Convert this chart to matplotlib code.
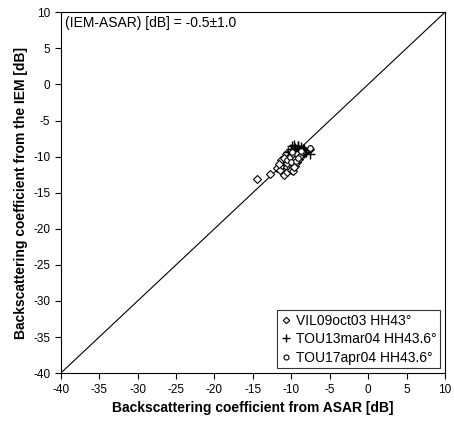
import matplotlib.pyplot as plt

plt.rcParams['font.family'] = ['Liberation Sans', 'DejaVu Sans']
plt.rcParams['axes.unicode_minus'] = False

# VIL09oct03 HH43 (diamonds)
vil_asar = [-14.4, -12.8, -11.8, -11.5, -11.2, -11.0, -10.9, -10.6, -10.5, -10.3,
            -10.2, -10.0, -9.9, -9.8, -9.6, -9.5, -9.4, -9.2, -9.0, -11.3,
            -10.8, -10.4, -10.1, -9.7, -9.3, -11.6, -10.7, -9.9, -9.1, -10.0,
            -11.0, -10.5, -9.6, -8.8, -7.6]
vil_iem = [-13.1, -12.4, -11.6, -11.9, -11.2, -12.5, -10.8, -11.4, -12.2, -10.4,
           -11.0, -11.9, -10.6, -12.0, -10.9, -11.3, -10.2, -10.7, -10.3, -10.5,
           -10.1, -9.9, -9.7, -9.8, -9.5, -11.0, -9.6, -10.0, -9.4, -10.8,
           -10.2, -10.9, -11.5, -9.6, -8.9]

# TOU13mar04 HH43.6 (crosses)
tou13_asar = [-10.4, -10.1, -9.9, -9.7, -9.5, -9.3, -9.1, -8.9, -8.7, -8.5,
              -8.3, -8.1, -10.0, -9.6, -9.2, -8.8, -8.4, -9.8, -9.4, -9.0,
              -8.6, -7.5, -9.7, -9.1, -8.2]
tou13_iem = [-9.3, -9.0, -8.6, -9.4, -8.8, -9.1, -8.5, -9.2, -8.7, -9.0,
             -8.9, -9.3, -9.8, -9.9, -9.6, -9.7, -9.5, -10.2, -10.0, -10.1,
             -9.8, -9.7, -8.4, -8.6, -9.4]

# TOU17apr04 HH43.6 (circles)
tou17_asar = [-10.6, -10.2, -9.8, -9.5, -9.2, -8.9, -8.6, -10.0, -9.4, -8.8,
              -7.6, -9.9, -9.1]
tou17_iem = [-10.5, -10.0, -9.7, -10.3, -9.6, -9.9, -9.4, -10.8, -10.6, -9.2,
             -8.8, -9.3, -10.2]

lims = [-40, 10]

fig = plt.figure(figsize=(4.54, 4.23), dpi=100)
ax = fig.add_axes([0.134, 0.118, 0.846, 0.853])

ax.plot(lims, lims, color='black', lw=0.8)
ax.plot(vil_asar, vil_iem, linestyle='none', marker='D', ms=3.6, mfc='white',
        mec='black', mew=0.8, label='VIL09oct03 HH43°')
ax.plot(tou13_asar, tou13_iem, linestyle='none', marker='+', ms=7, mec='black',
        mew=1.0, label='TOU13mar04 HH43.6°')
ax.plot(tou17_asar, tou17_iem, linestyle='none', marker='o', ms=4, mfc='white',
        mec='black', mew=0.8, label='TOU17apr04 HH43.6°')

ax.set_xlim(lims)
ax.set_ylim(lims)
ax.set_xticks(range(-40, 11, 5))
ax.set_yticks(range(-40, 11, 5))
ax.tick_params(direction='out', length=4, width=0.8, labelsize=8.5, colors='black')
for s in ax.spines.values():
    s.set_linewidth(0.8)

ax.set_xlabel('Backscattering coefficient from ASAR [dB]', fontsize=10,
              fontweight='bold', labelpad=4)
ax.set_ylabel('Backscattering coefficient from the IEM [dB]', fontsize=10,
              fontweight='bold', labelpad=4)

ax.text(-39.5, 9.5, '(IEM-ASAR) [dB] = -0.5±1.0', fontsize=10, va='top', ha='left')

leg = ax.legend(loc='lower right', fontsize=10, frameon=True, fancybox=False,
                edgecolor='black', handlelength=0.7, handletextpad=0.4,
                borderpad=0.25, labelspacing=0.33, borderaxespad=0.35, markerscale=0.9)
leg.get_frame().set_linewidth(0.8)

plt.savefig('out.png', dpi=100)
